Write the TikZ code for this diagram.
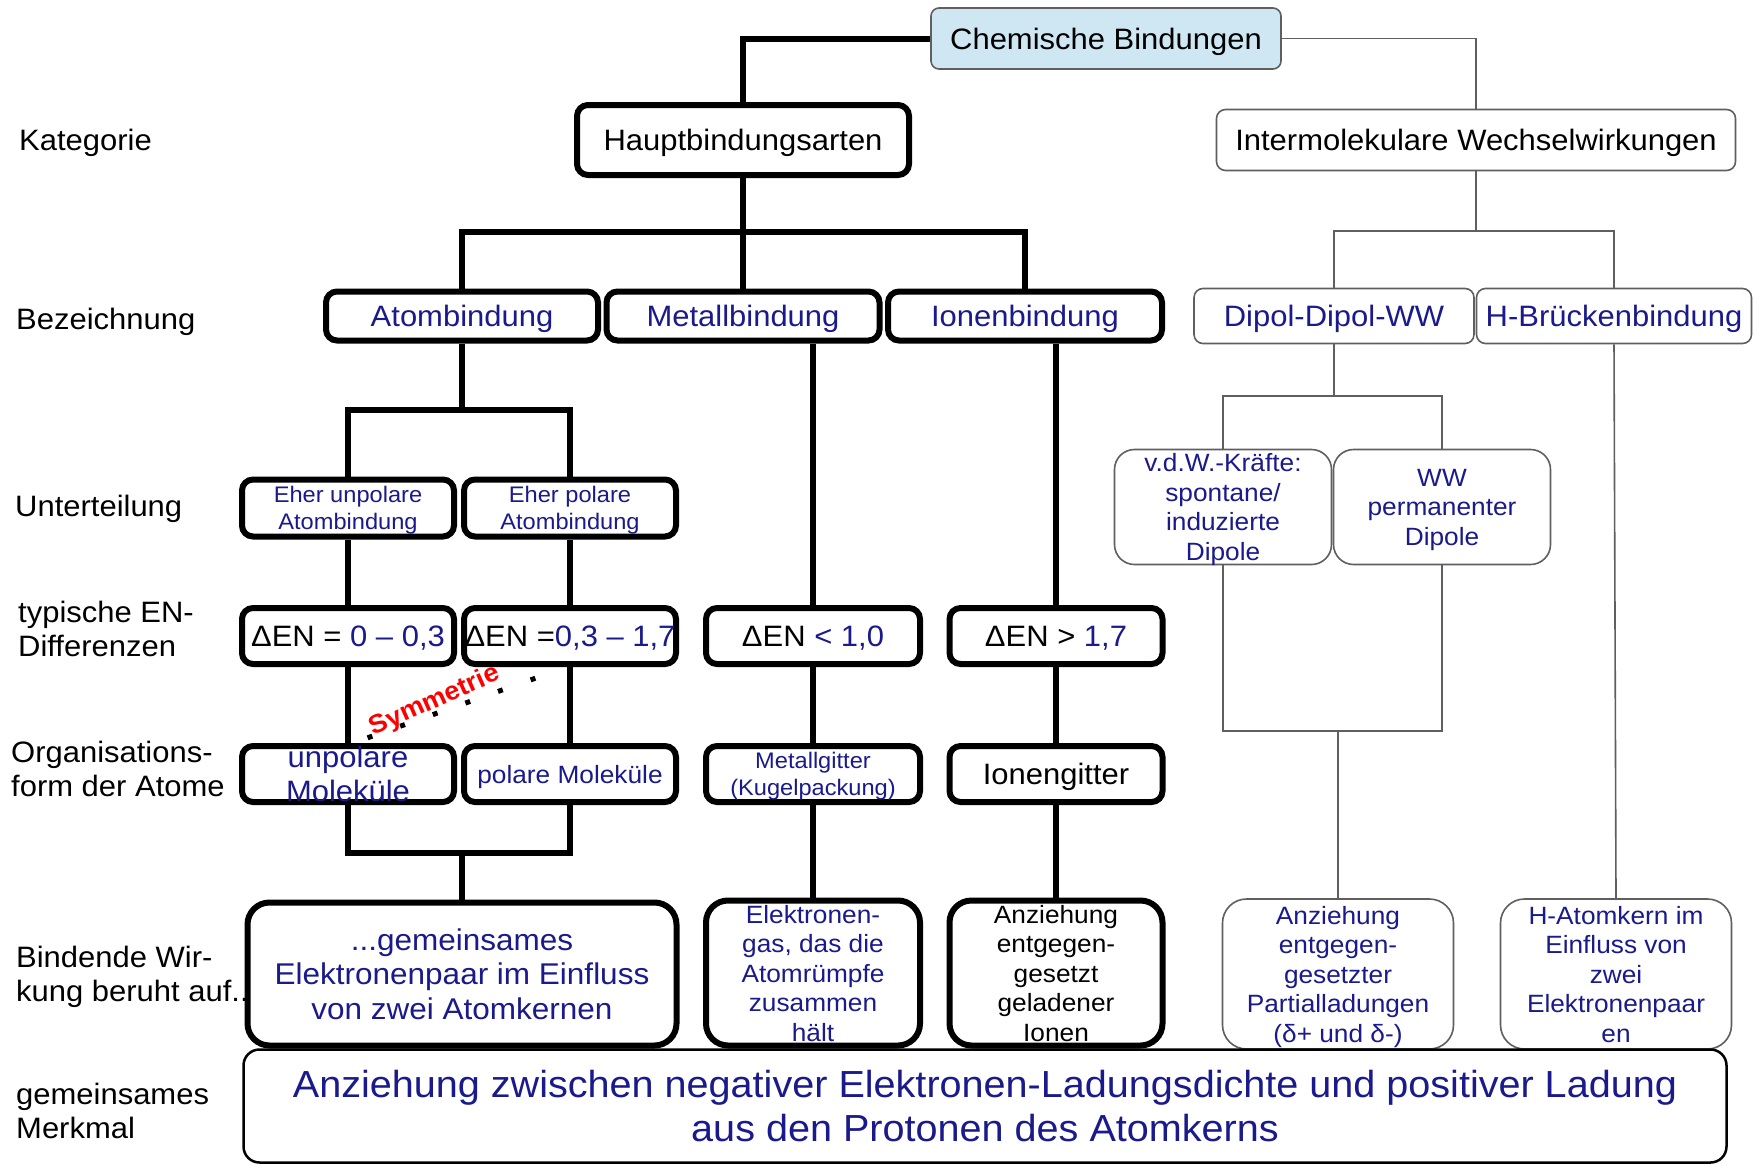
\documentclass[tikz,border=0pt]{standalone}
\usepackage{fontspec}
\setmainfont{Liberation Sans}[FakeStretch=1.05]
\definecolor{navy}{RGB}{26,26,140}
\definecolor{chemblue}{RGB}{207,230,243}
\definecolor{thingray}{RGB}{95,95,95}
\newcommand\szBig{\fontsize{29.5}{34}\selectfont}
\newcommand\szDen{\fontsize{29.5}{34}\selectfont}
\newcommand\szMid{\fontsize{25}{29.5}\selectfont}
\newcommand\szSmall{\fontsize{22.5}{27.5}\selectfont}
\newcommand\szGem{\fontsize{30}{34.7}\selectfont}
\newcommand\szHuge{\fontsize{37.7}{44}\selectfont}
\newcommand\szSym{\fontsize{26}{30}\selectfont}
\pgfdeclarelayer{bg}
\pgfsetlayers{bg,main}
\begin{document}
\begin{tikzpicture}[x=1pt,y=-1pt,
  thickbox/.style={draw=black, line width=6pt, rounded corners=11pt, fill=white, inner sep=0pt, align=center, text depth=0pt},
  thinbox/.style={draw=thingray, line width=1.6pt, rounded corners=9pt, fill=white, inner sep=0pt, align=center, text depth=0pt},
  roundbox/.style={thinbox, rounded corners=24pt},
  thickline/.style={draw=black, line width=6pt},
  thinline/.style={draw=thingray, line width=1.6pt},
  lbl/.style={anchor=west, align=left, font=\szBig, inner sep=0pt, text depth=0pt},
  blue/.style={text=navy}
]
\useasboundingbox (0,0) rectangle (1753,1165);

% ---------- top ----------
\node[thinbox, fill=chemblue, rounded corners=8pt, minimum width=350pt, minimum height=61pt, font=\szBig] (chem) at (1106,38.5) {Chemische Bindungen};
\node[thickbox, minimum width=332pt, minimum height=70pt, font=\szBig] (haupt) at (743,140) {Hauptbindungsarten};
\node[thinbox, minimum width=519pt, minimum height=61pt, font=\szBig] (inter) at (1476,140) {Intermolekulare Wechselwirkungen};

% ---------- Bezeichnung ----------
\node[thickbox, blue, minimum width=272pt, minimum height=49pt, font=\szBig] (atom) at (462,316) {Atombindung};
\node[thickbox, blue, minimum width=273pt, minimum height=49pt, font=\szBig] (metall) at (743,316) {Metallbindung};
\node[thickbox, blue, minimum width=274pt, minimum height=49pt, font=\szBig] (ionen) at (1025,316) {Ionenbindung};
\node[thinbox, blue, minimum width=280pt, minimum height=55pt, font=\szBig] (dipol) at (1334,316) {Dipol-Dipol-WW};
\node[thinbox, blue, minimum width=275pt, minimum height=55pt, font=\szBig] (hbr) at (1614,316) {H-Brückenbindung};

% ---------- Unterteilung ----------
\node[thickbox, blue, minimum width=212pt, minimum height=57pt, font=\szSmall] (eu) at (348,508) {Eher unpolare\\Atombindung};
\node[thickbox, blue, minimum width=212pt, minimum height=57pt, font=\szSmall] (ep) at (570,508) {Eher polare\\Atombindung};
\node[thinbox, blue, rounded corners=20pt, minimum width=217pt, minimum height=115pt, font=\szMid] (vdw) at (1223,507) {v.d.W.-Kräfte:\\spontane/\\induzierte\\Dipole};
\node[thinbox, blue, rounded corners=20pt, minimum width=217pt, minimum height=115pt, font=\szMid] (wwp) at (1442,507) {WW\\permanenter\\Dipole};

% ---------- EN-Differenzen ----------
\node[thickbox, blue, minimum width=212pt, minimum height=56pt, font=\szDen] (den1) at (348,636) {\textcolor{black}{ΔEN =} 0 – 0,3};
\node[thickbox, blue, minimum width=212pt, minimum height=56pt, font=\szDen] (den2) at (570,636) {\textcolor{black}{ΔEN =}0,3 – 1,7};
\node[thickbox, blue, minimum width=214pt, minimum height=56pt, font=\szDen] (den3) at (813,636) {\textcolor{black}{ΔEN} < 1,0};
\node[thickbox, blue, minimum width=213pt, minimum height=56pt, font=\szDen] (den4) at (1056,636) {\textcolor{black}{ΔEN >} 1,7};

% ---------- Organisationsform ----------
\node[thickbox, blue, minimum width=212pt, minimum height=56pt, font=\szBig] (um) at (348,774) {unpolare\\Moleküle};
\node[thickbox, blue, minimum width=212pt, minimum height=56pt, font=\szMid] (pm) at (570,774) {polare Moleküle};
\node[thickbox, blue, minimum width=214pt, minimum height=56pt, font=\szSmall] (mg) at (813,774) {Metallgitter\\(Kugelpackung)};
\node[thickbox, minimum width=213pt, minimum height=56pt, font=\szBig] (ig) at (1056,774) {Ionengitter};

% ---------- Bindende Wirkung ----------
\node[thickbox, blue, rounded corners=22pt, minimum width=429pt, minimum height=143pt, font=\szGem] (gem) at (462,974) {...gemeinsames\\Elektronenpaar im Einfluss\\von zwei Atomkernen};
\node[thickbox, blue, rounded corners=22pt, minimum width=214pt, minimum height=145pt, font=\szMid] (eg) at (813,973) {Elektronen-\\gas, das die\\Atomrümpfe\\zusammen\\hält};
\node[thickbox, rounded corners=22pt, minimum width=213pt, minimum height=145pt, font=\szMid] (an) at (1056,973) {Anziehung\\entgegen-\\gesetzt\\geladener\\Ionen};
\node[roundbox, blue, minimum width=231pt, minimum height=150pt, font=\szMid] (pl) at (1338,974) {Anziehung\\entgegen-\\gesetzter\\Partialladungen\\(δ+ und δ-)};
\node[roundbox, blue, minimum width=231pt, minimum height=150pt, font=\szMid] (ha) at (1616,974) {H-Atomkern im\\Einfluss von\\zwei\\Elektronenpaar\\en};

% ---------- gemeinsames Merkmal ----------
\node[draw=black, line width=2.5pt, rounded corners=16pt, fill=white, inner sep=0pt, align=center, text depth=0pt, blue, minimum width=1483pt, minimum height=113pt, font=\szHuge] (gm) at (985,1106) {Anziehung zwischen negativer Elektronen-Ladungsdichte und positiver Ladung\\aus den Protonen des Atomkerns};

% ---------- left labels ----------
\node[lbl] (l1) at (19,140) {Kategorie};
\node[lbl] (l2) at (16,319) {Bezeichnung};
\node[lbl] (l3) at (15,506) {Unterteilung};
\node[lbl] (l4) at (18,629) {typische EN-\\Differenzen};
\node[lbl] (l5) at (11,769) {Organisations-\\form der Atome};
\node[lbl] (l6) at (16,974) {Bindende Wir-\\kung beruht auf..};
\node[lbl] (l7) at (16,1111) {gemeinsames\\Merkmal};

% ---------- Symmetrie ----------
\draw[line width=5pt, dash pattern=on 5pt off 29.6pt] (367.6,737.8) coordinate (s1) -- (535.4,678.2) coordinate (s2);
\node[rotate=24, text=red, font=\szSym\bfseries, inner sep=0pt] (sym) at (435,701) {Symmetrie};

% ---------- connectors ----------
\coordinate (j1) at (743,232);
\coordinate (j2) at (462,410);
\coordinate (j3) at (462,853);
\coordinate (j4) at (1476,231);
\coordinate (j5) at (1334,396);
\coordinate (j6) at (1338,731);
\begin{pgfonlayer}{bg}
\fill[white] (0,0) rectangle (1753,1165);
\draw[thickline] (chem.west) -| (haupt.north);
\draw[thinline] (chem.east) -| (inter.north);
\draw[thickline] (haupt.south) -- (metall.north);
\draw[thickline] (atom.north) |- (j1) -| (ionen.north);
\draw[thickline] (atom.south) -- (j2);
\draw[thickline] (eu.north) |- (j2) -| (ep.north);
\draw[thickline] (metall.south -| den3.north) -- (den3.north);
\draw[thickline] (ionen.south -| den4.north) -- (den4.north);
\draw[thickline] (eu.south) -- (den1.north);
\draw[thickline] (ep.south) -- (den2.north);
\draw[thickline] (den1.south) -- (um.north);
\draw[thickline] (den2.south) -- (pm.north);
\draw[thickline] (den3.south) -- (mg.north);
\draw[thickline] (den4.south) -- (ig.north);
\draw[thickline] (um.south) |- (j3) -| (pm.south);
\draw[thickline] (j3) -- (gem.north);
\draw[thickline] (mg.south) -- (eg.north);
\draw[thickline] (ig.south) -- (an.north);
\draw[thinline] (inter.south) -- (j4);
\draw[thinline] (dipol.north) |- (j4) -| (hbr.north);
\draw[thinline] (dipol.south) -- (j5);
\draw[thinline] (vdw.north) |- (j5) -| (wwp.north);
\draw[thinline] (vdw.south) |- (j6) -| (wwp.south);
\draw[thinline] (j6) -- (pl.north);
\draw[thinline] (hbr.south) -- (ha.north);
\end{pgfonlayer}
\end{tikzpicture}
\end{document}
